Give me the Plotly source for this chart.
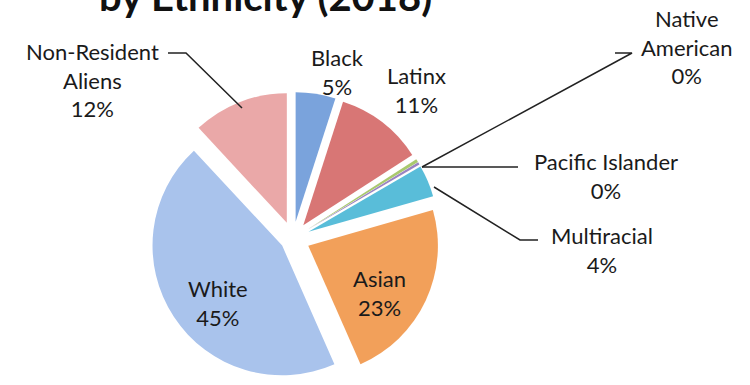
import plotly.graph_objects as go

# ---- data ----
categories = ["Black", "Latinx", "Native American", "Pacific Islander",
              "Multiracial", "Asian", "White", "Non-Resident Aliens"]
values = [5, 11, 0.4, 0.3, 4, 23, 45, 12]
colors = ["#7aa3dc", "#d87675", "#a9c96e", "#9a84c2",
          "#59bdd9", "#f2a05a", "#a9c3ec", "#eaa8a8"]
title_text = "by Ethnicity (2018)"

W, H = 750, 385
total = sum(values)
pct = [f"{round(v / total * 100)}%" for v in values]

def px(x, y):
    return x / W, 1 - y / H

fig = go.Figure(go.Pie(
    labels=categories, values=values, sort=False, direction="clockwise",
    rotation=0, marker=dict(colors=colors, line=dict(width=0)),
    pull=[0.13, 0.13, 0.13, 0.13, 0.13, 0.13, 0.1, 0.13],
    textinfo="none", hoverinfo="label+percent", showlegend=False,
    domain=dict(x=[140 / W, 446 / W], y=[0, 1 - 92 / H]),
))

font = dict(family="Lato, 'Open Sans', sans-serif", size=22, color="#1a1a1a")

# label placement (pixel centers of the text blocks)
label_pos = {
    "Black": (337, 72),
    "Latinx": (416, 90),
    "Native American": (687, 47),
    "Pacific Islander": (606, 176),
    "Multiracial": (602, 250),
    "Asian": (379, 293),
    "White": (218, 303),
    "Non-Resident Aliens": (92, 80),
}
split = {
    "Native American": "Native<br>American",
    "Non-Resident Aliens": "Non-Resident<br>Aliens",
}
annotations = []
for cat, p in zip(categories, pct):
    x, y = label_pos[cat]
    ax, ay = px(x, y)
    annotations.append(dict(
        x=ax, y=ay, xref="paper", yref="paper", showarrow=False,
        text=f"{split.get(cat, cat)}<br>{p}", font=font, align="center",
        xanchor="center", yanchor="middle"))

annotations.append(dict(
    x=265 / W, y=1 - 22 / H, xref="paper", yref="paper", showarrow=False,
    text=f"<b>{title_text}</b>", xanchor="center", yanchor="bottom",
    font=dict(family="Lato, sans-serif", size=40, color="#111111")))

# leader lines (pixel paths)
leaders = [
    [(168, 53), (186, 53), (242, 108)],
    [(615, 53), (632, 53), (422, 167)],
    [(422, 167), (518, 167)],
    [(434, 187), (520, 240), (538, 240)],
]
shapes = []
for pts in leaders:
    path = ""
    for i, (x, y) in enumerate(pts):
        a, b = px(x, y)
        path += ("M" if i == 0 else " L") + f" {a} {b}"
    shapes.append(dict(type="path", path=path, xref="paper", yref="paper",
                       line=dict(color="#222222", width=1.5)))

fig.update_layout(
    width=W, height=H, margin=dict(l=0, r=0, t=0, b=0),
    paper_bgcolor="white", plot_bgcolor="white",
    annotations=annotations, shapes=shapes,
)
fig.write_html("out.html")
